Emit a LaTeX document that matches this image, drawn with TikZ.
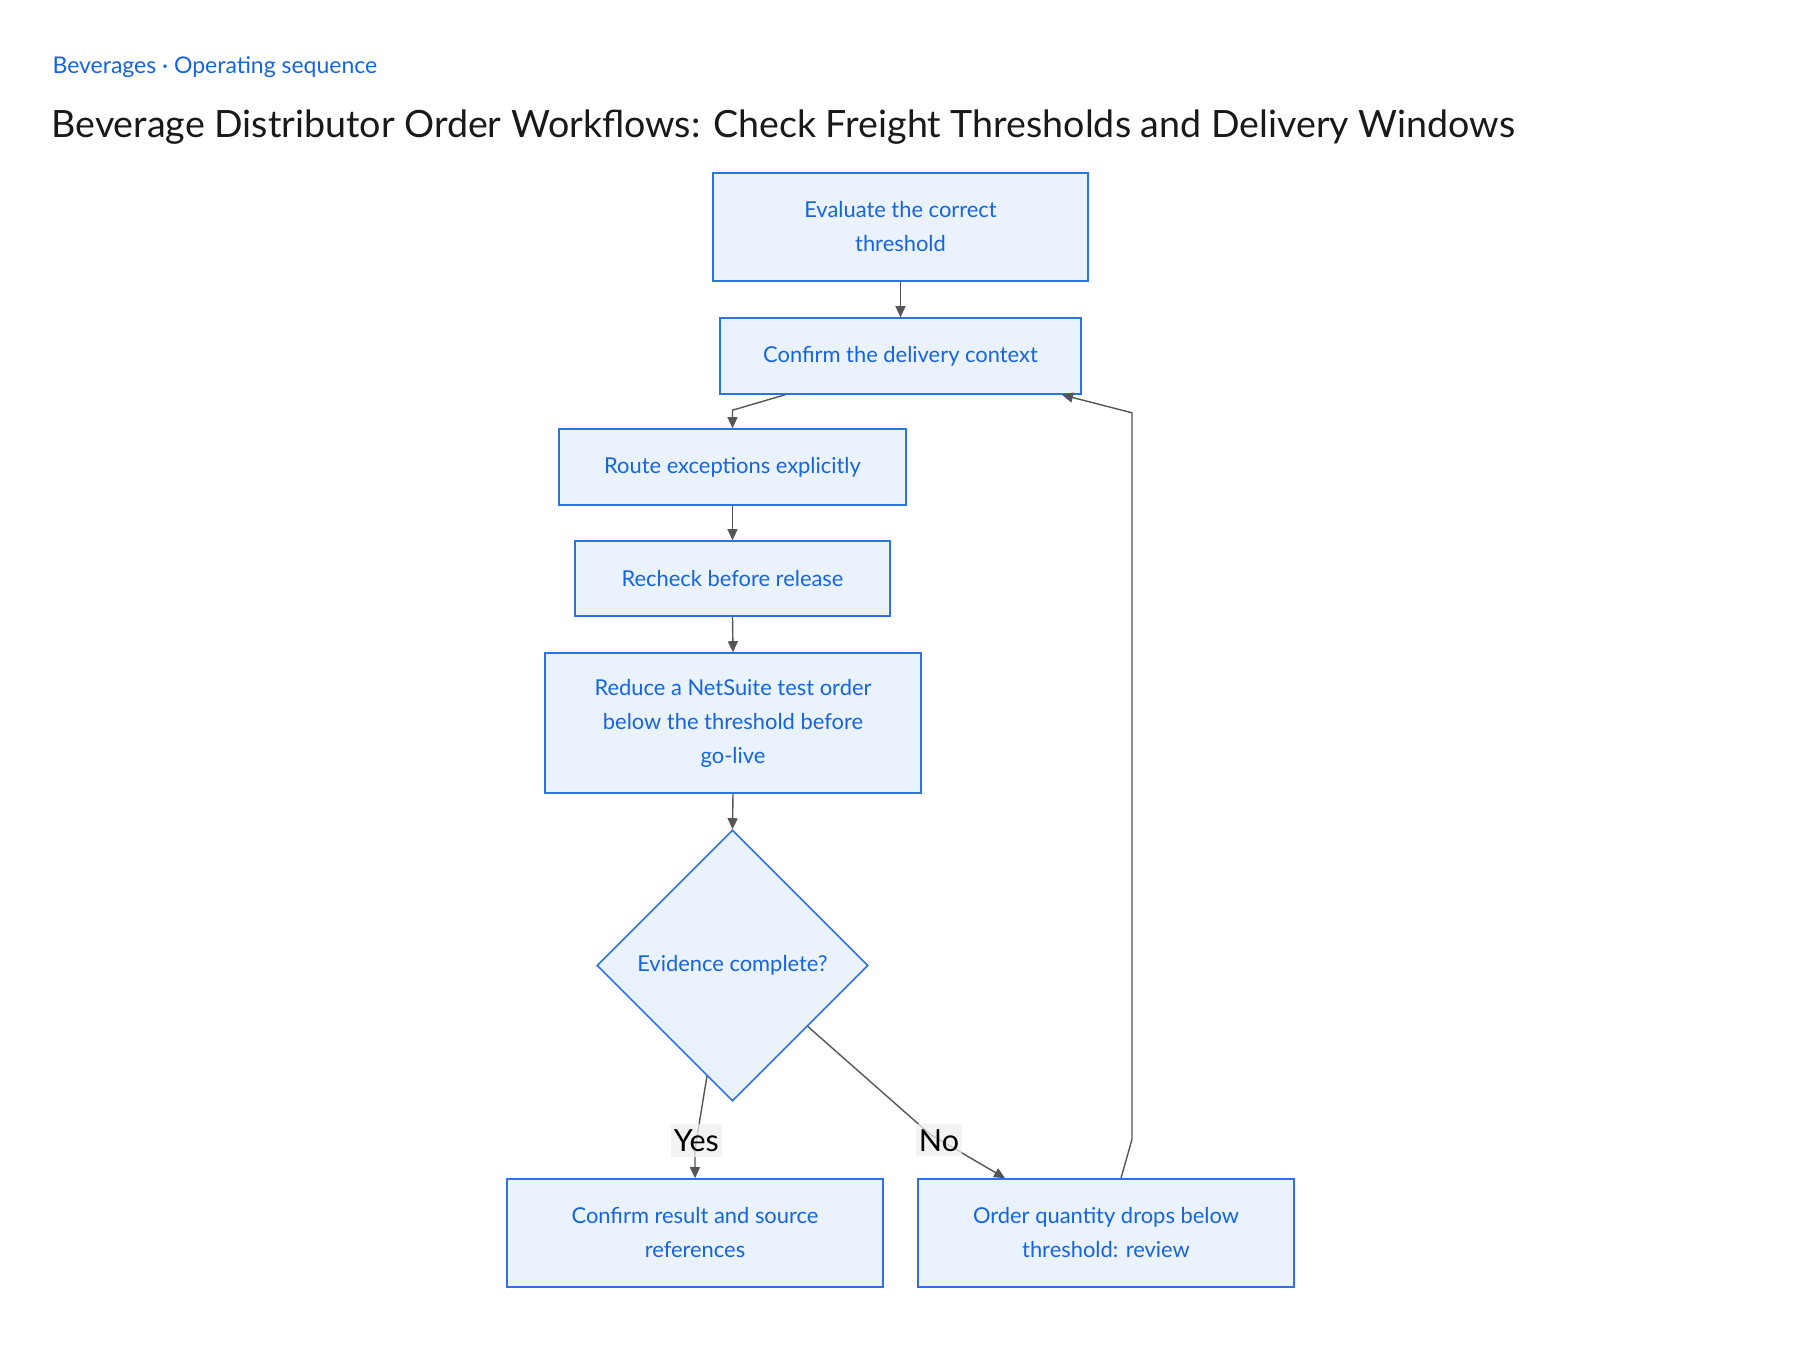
\documentclass[tikz,border=0pt]{standalone}
\usepackage{fontspec}
\setmainfont{Lato}
\usetikzlibrary{arrows.meta,shapes.geometric}
\definecolor{boxfill}{HTML}{EAF2FE}
\definecolor{boxline}{HTML}{2B73E6}
\definecolor{boxtext}{HTML}{1565E0}
\definecolor{edge}{HTML}{555555}
\definecolor{tagfill}{HTML}{EFEFEF}
\begin{document}
\begin{tikzpicture}[x=1pt, y=-1pt,
    stepbox/.style={draw=boxline, line width=1.6pt, fill=boxfill, text=boxtext, align=center, inner sep=0pt,
      font=\fontsize{21.9}{34}\selectfont},
    decide/.style={stepbox, diamond, aspect=1, minimum width=271pt, minimum height=271pt},
    flow/.style={draw=edge, line width=1.4pt, -{Triangle[length=11pt,width=10pt]}},
    tag/.style={fill=tagfill, fill opacity=0.75, text opacity=1, text=black, inner xsep=3pt, inner ysep=5pt,
      font=\fontsize{30.5}{32}\selectfont}]
    \useasboundingbox (0,0) rectangle (1800,1350);
    \node[anchor=base west, text=boxtext, font=\fontsize{23}{26}\selectfont] (crumb) at (49,73) {Beverages · Operating sequence};
    \node[anchor=base west, text=black!90, font=\fontsize{37.6}{44}\selectfont] (title) at (48,137) {Beverage Distributor Order Workflows: Check Freight Thresholds and Delivery Windows};
    \node[stepbox, minimum width=375pt, minimum height=108pt] (eval) at (900.5,227) {Evaluate the correct\\threshold};
    \node[stepbox, minimum width=361pt, minimum height=76pt] (ctx) at (900.5,356) {Confirm the delivery context};
    \node[stepbox, minimum width=347pt, minimum height=76pt] (route) at (732.5,467) {Route exceptions explicitly};
    \node[stepbox, minimum width=315pt, minimum height=75pt] (recheck) at (732.5,578.5) {Recheck before release};
    \node[stepbox, minimum width=376pt, minimum height=140pt] (reduce) at (733,723) {Reduce a NetSuite test order\\below the threshold before\\go-live};
    \node[decide] (check) at (732.5,965.5) {Evidence complete?};
    \node[stepbox, minimum width=376pt, minimum height=108pt] (done) at (695,1233) {Confirm result and source\\references};
    \node[stepbox, minimum width=376pt, minimum height=108pt] (review) at (1106,1233) {Order quantity drops below\\threshold: review};
    \draw[flow] (eval.south) -- (ctx.north);
    \draw[flow] ([xshift=-115.5pt]ctx.south) -- ([yshift=18pt]route.north) -- (route.north);
    \draw[flow] (route.south) -- (recheck.north);
    \draw[flow] (recheck.south) -- (reduce.north);
    \draw[flow] (reduce.south) -- (check.north);
    \draw[flow] (check.257.7) -- ([yshift=29pt]done.north) node[tag, pos=0.88] {Yes} -- (done.north);
    \draw[flow] (check.-39.5) -- ([xshift=-176pt,yshift=44pt]review.north) node[tag, pos=1, xshift=9pt, yshift=-6pt] {No} -- ([xshift=-101pt]review.north);
    \draw[flow] ([xshift=15pt]review.north) -- ([xshift=26pt,yshift=39pt]review.north) -- ([xshift=231.5pt,yshift=-18pt]ctx.south) -- ([xshift=161.5pt]ctx.south);
\end{tikzpicture}
\end{document}
